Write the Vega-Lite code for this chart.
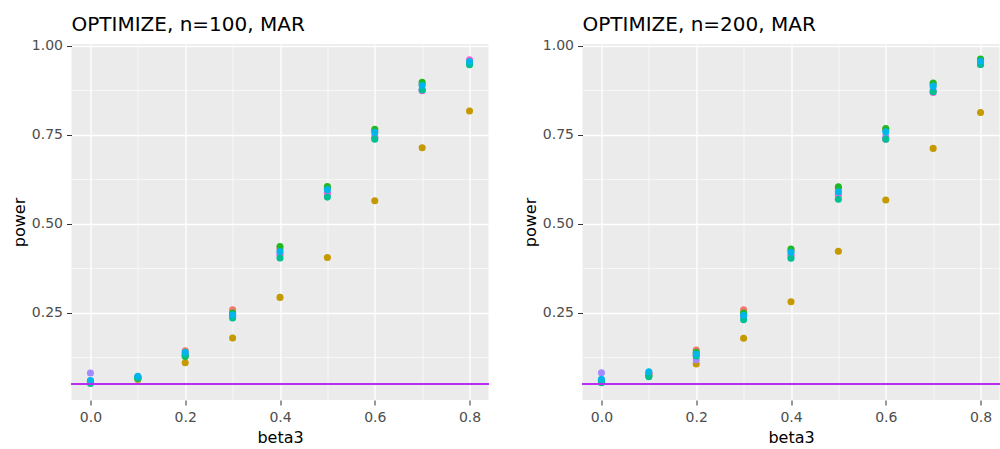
{
  "$schema": "https://vega.github.io/schema/vega-lite/v6.json",
  "padding": {"left": 10.5, "top": 14, "right": 0, "bottom": 3},
  "spacing": 32,
  "datasets": {
    "pts": [
      {"p":"n100","g":"B","x":0.0,"v":0.056},{"p":"n100","g":"B","x":0.1,"v":0.062},{"p":"n100","g":"B","x":0.2,"v":0.109},{"p":"n100","g":"B","x":0.3,"v":0.179},{"p":"n100","g":"B","x":0.4,"v":0.293},{"p":"n100","g":"B","x":0.5,"v":0.405},{"p":"n100","g":"B","x":0.6,"v":0.565},{"p":"n100","g":"B","x":0.7,"v":0.714},{"p":"n100","g":"B","x":0.8,"v":0.817},
      {"p":"n100","g":"F","x":0.0,"v":0.0805},{"p":"n100","g":"F","x":0.1,"v":0.068},{"p":"n100","g":"F","x":0.2,"v":0.13},{"p":"n100","g":"F","x":0.3,"v":0.24},{"p":"n100","g":"F","x":0.4,"v":0.415},{"p":"n100","g":"F","x":0.5,"v":0.587},{"p":"n100","g":"F","x":0.6,"v":0.745},{"p":"n100","g":"F","x":0.7,"v":0.876},{"p":"n100","g":"F","x":0.8,"v":0.955},
      {"p":"n100","g":"G","x":0.0,"v":0.058},{"p":"n100","g":"G","x":0.1,"v":0.069},{"p":"n100","g":"G","x":0.2,"v":0.135},{"p":"n100","g":"G","x":0.3,"v":0.245},{"p":"n100","g":"G","x":0.4,"v":0.413},{"p":"n100","g":"G","x":0.5,"v":0.585},{"p":"n100","g":"G","x":0.6,"v":0.743},{"p":"n100","g":"G","x":0.7,"v":0.874},{"p":"n100","g":"G","x":0.8,"v":0.961},
      {"p":"n100","g":"A","x":0.0,"v":0.058},{"p":"n100","g":"A","x":0.1,"v":0.068},{"p":"n100","g":"A","x":0.2,"v":0.143},{"p":"n100","g":"A","x":0.3,"v":0.258},{"p":"n100","g":"A","x":0.4,"v":0.43},{"p":"n100","g":"A","x":0.5,"v":0.6},{"p":"n100","g":"A","x":0.6,"v":0.76},{"p":"n100","g":"A","x":0.7,"v":0.892},{"p":"n100","g":"A","x":0.8,"v":0.955},
      {"p":"n100","g":"C","x":0.0,"v":0.055},{"p":"n100","g":"C","x":0.1,"v":0.066},{"p":"n100","g":"C","x":0.2,"v":0.127},{"p":"n100","g":"C","x":0.3,"v":0.249},{"p":"n100","g":"C","x":0.4,"v":0.436},{"p":"n100","g":"C","x":0.5,"v":0.605},{"p":"n100","g":"C","x":0.6,"v":0.766},{"p":"n100","g":"C","x":0.7,"v":0.898},{"p":"n100","g":"C","x":0.8,"v":0.953},
      {"p":"n100","g":"D","x":0.0,"v":0.051},{"p":"n100","g":"D","x":0.1,"v":0.066},{"p":"n100","g":"D","x":0.2,"v":0.13},{"p":"n100","g":"D","x":0.3,"v":0.235},{"p":"n100","g":"D","x":0.4,"v":0.404},{"p":"n100","g":"D","x":0.5,"v":0.575},{"p":"n100","g":"D","x":0.6,"v":0.738},{"p":"n100","g":"D","x":0.7,"v":0.876},{"p":"n100","g":"D","x":0.8,"v":0.947},
      {"p":"n100","g":"E","x":0.0,"v":0.059},{"p":"n100","g":"E","x":0.1,"v":0.071},{"p":"n100","g":"E","x":0.2,"v":0.139},{"p":"n100","g":"E","x":0.3,"v":0.244},{"p":"n100","g":"E","x":0.4,"v":0.422},{"p":"n100","g":"E","x":0.5,"v":0.596},{"p":"n100","g":"E","x":0.6,"v":0.757},{"p":"n100","g":"E","x":0.7,"v":0.889},{"p":"n100","g":"E","x":0.8,"v":0.956},
      {"p":"n200","g":"B","x":0.0,"v":0.058},{"p":"n200","g":"B","x":0.1,"v":0.075},{"p":"n200","g":"B","x":0.2,"v":0.106},{"p":"n200","g":"B","x":0.3,"v":0.178},{"p":"n200","g":"B","x":0.4,"v":0.281},{"p":"n200","g":"B","x":0.5,"v":0.423},{"p":"n200","g":"B","x":0.6,"v":0.567},{"p":"n200","g":"B","x":0.7,"v":0.712},{"p":"n200","g":"B","x":0.8,"v":0.813},
      {"p":"n200","g":"F","x":0.0,"v":0.081},{"p":"n200","g":"F","x":0.1,"v":0.08},{"p":"n200","g":"F","x":0.2,"v":0.118},{"p":"n200","g":"F","x":0.3,"v":0.24},{"p":"n200","g":"F","x":0.4,"v":0.412},{"p":"n200","g":"F","x":0.5,"v":0.583},{"p":"n200","g":"F","x":0.6,"v":0.745},{"p":"n200","g":"F","x":0.7,"v":0.875},{"p":"n200","g":"F","x":0.8,"v":0.95},
      {"p":"n200","g":"G","x":0.0,"v":0.06},{"p":"n200","g":"G","x":0.1,"v":0.079},{"p":"n200","g":"G","x":0.2,"v":0.13},{"p":"n200","g":"G","x":0.3,"v":0.245},{"p":"n200","g":"G","x":0.4,"v":0.41},{"p":"n200","g":"G","x":0.5,"v":0.581},{"p":"n200","g":"G","x":0.6,"v":0.738},{"p":"n200","g":"G","x":0.7,"v":0.869},{"p":"n200","g":"G","x":0.8,"v":0.948},
      {"p":"n200","g":"A","x":0.0,"v":0.06},{"p":"n200","g":"A","x":0.1,"v":0.078},{"p":"n200","g":"A","x":0.2,"v":0.145},{"p":"n200","g":"A","x":0.3,"v":0.258},{"p":"n200","g":"A","x":0.4,"v":0.425},{"p":"n200","g":"A","x":0.5,"v":0.6},{"p":"n200","g":"A","x":0.6,"v":0.765},{"p":"n200","g":"A","x":0.7,"v":0.893},{"p":"n200","g":"A","x":0.8,"v":0.96},
      {"p":"n200","g":"C","x":0.0,"v":0.057},{"p":"n200","g":"C","x":0.1,"v":0.072},{"p":"n200","g":"C","x":0.2,"v":0.139},{"p":"n200","g":"C","x":0.3,"v":0.249},{"p":"n200","g":"C","x":0.4,"v":0.429},{"p":"n200","g":"C","x":0.5,"v":0.604},{"p":"n200","g":"C","x":0.6,"v":0.768},{"p":"n200","g":"C","x":0.7,"v":0.896},{"p":"n200","g":"C","x":0.8,"v":0.963},
      {"p":"n200","g":"D","x":0.0,"v":0.053},{"p":"n200","g":"D","x":0.1,"v":0.07},{"p":"n200","g":"D","x":0.2,"v":0.128},{"p":"n200","g":"D","x":0.3,"v":0.23},{"p":"n200","g":"D","x":0.4,"v":0.403},{"p":"n200","g":"D","x":0.5,"v":0.569},{"p":"n200","g":"D","x":0.6,"v":0.738},{"p":"n200","g":"D","x":0.7,"v":0.871},{"p":"n200","g":"D","x":0.8,"v":0.948},
      {"p":"n200","g":"E","x":0.0,"v":0.063},{"p":"n200","g":"E","x":0.1,"v":0.084},{"p":"n200","g":"E","x":0.2,"v":0.134},{"p":"n200","g":"E","x":0.3,"v":0.243},{"p":"n200","g":"E","x":0.4,"v":0.42},{"p":"n200","g":"E","x":0.5,"v":0.59},{"p":"n200","g":"E","x":0.6,"v":0.759},{"p":"n200","g":"E","x":0.7,"v":0.887},{"p":"n200","g":"E","x":0.8,"v":0.957}
    ]
  },
  "hconcat": [
    {
      "width": 417, "height": 356,
      "title": {"text": "OPTIMIZE, n=100, MAR"},
      "data": {"name": "pts"},
      "transform": [{"filter": "datum.p == 'n100'"}],
      "layer": [
        {
          "mark": {"type": "circle", "size": 50, "opacity": 1},
          "encoding": {
            "x": {"field": "x", "type": "quantitative", "title": "beta3", "scale": {"domain": [-0.04, 0.84], "nice": false, "zero": false},
              "axis": {"values": [0, 0.1, 0.2, 0.3, 0.4, 0.5, 0.6, 0.7, 0.8],
                "labelExpr": "round(datum.value*10) % 2 == 0 ? format(datum.value, '.1f') : ''",
                "gridWidth": {"condition": {"test": "round(datum.value*10) % 2 == 0", "value": 1.3}, "value": 0.6},
                "tickOpacity": {"condition": {"test": "round(datum.value*10) % 2 == 0", "value": 1}, "value": 0}}},
            "y": {"field": "v", "type": "quantitative", "title": "power", "scale": {"domain": [0.0045, 1.0055], "nice": false, "zero": false},
              "axis": {"values": [0.125, 0.25, 0.375, 0.5, 0.625, 0.75, 0.875, 1.0],
                "labelExpr": "datum.value % 0.25 == 0 ? format(datum.value, '.2f') : ''",
                "gridWidth": {"condition": {"test": "datum.value % 0.25 == 0", "value": 1.3}, "value": 0.6},
                "tickOpacity": {"condition": {"test": "datum.value % 0.25 == 0", "value": 1}, "value": 0}}},
            "color": {"field": "g", "type": "nominal", "legend": null,
              "scale": {"domain": ["A","B","C","D","E","F","G"], "range": ["#F8766D","#C49A00","#22B822","#00C094","#00B6EB","#A58AFF","#FB61D7"]}}
          }
        },
        {
          "mark": {"type": "rule", "color": "#BA2EF2", "strokeWidth": 1.8},
          "encoding": {"y": {"datum": 0.05}}
        }
      ]
    },
    {
      "width": 417, "height": 356,
      "title": {"text": "OPTIMIZE, n=200, MAR"},
      "data": {"name": "pts"},
      "transform": [{"filter": "datum.p == 'n200'"}],
      "layer": [
        {
          "mark": {"type": "circle", "size": 50, "opacity": 1},
          "encoding": {
            "x": {"field": "x", "type": "quantitative", "title": "beta3", "scale": {"domain": [-0.04, 0.84], "nice": false, "zero": false},
              "axis": {"values": [0, 0.1, 0.2, 0.3, 0.4, 0.5, 0.6, 0.7, 0.8],
                "labelExpr": "round(datum.value*10) % 2 == 0 ? format(datum.value, '.1f') : ''",
                "gridWidth": {"condition": {"test": "round(datum.value*10) % 2 == 0", "value": 1.3}, "value": 0.6},
                "tickOpacity": {"condition": {"test": "round(datum.value*10) % 2 == 0", "value": 1}, "value": 0}}},
            "y": {"field": "v", "type": "quantitative", "title": "power", "scale": {"domain": [0.0045, 1.0055], "nice": false, "zero": false},
              "axis": {"values": [0.125, 0.25, 0.375, 0.5, 0.625, 0.75, 0.875, 1.0],
                "labelExpr": "datum.value % 0.25 == 0 ? format(datum.value, '.2f') : ''",
                "gridWidth": {"condition": {"test": "datum.value % 0.25 == 0", "value": 1.3}, "value": 0.6},
                "tickOpacity": {"condition": {"test": "datum.value % 0.25 == 0", "value": 1}, "value": 0}}},
            "color": {"field": "g", "type": "nominal", "legend": null,
              "scale": {"domain": ["A","B","C","D","E","F","G"], "range": ["#F8766D","#C49A00","#22B822","#00C094","#00B6EB","#A58AFF","#FB61D7"]}}
          }
        },
        {
          "mark": {"type": "rule", "color": "#BA2EF2", "strokeWidth": 1.8},
          "encoding": {"y": {"datum": 0.05}}
        }
      ]
    }
  ],
  "config": {
    "font": "DejaVu Sans",
    "view": {"fill": "#EBEBEB", "stroke": null},
    "title": {"anchor": "start", "frame": "group", "fontSize": 20, "fontWeight": "normal", "color": "#000000", "offset": 4},
    "axis": {
      "domain": false,
      "gridColor": "#FFFFFF",
      "tickColor": "#333333",
      "tickSize": 5,
      "tickWidth": 1,
      "labelColor": "#4D4D4D",
      "labelFontSize": 14,
      "titleFontSize": 16,
      "titleFontWeight": "normal",
      "titleColor": "#000000"
    },
    "axisY": {"labelPadding": 4, "titlePadding": 4},
    "axisX": {"labelPadding": 5, "titlePadding": 5}
  }
}
